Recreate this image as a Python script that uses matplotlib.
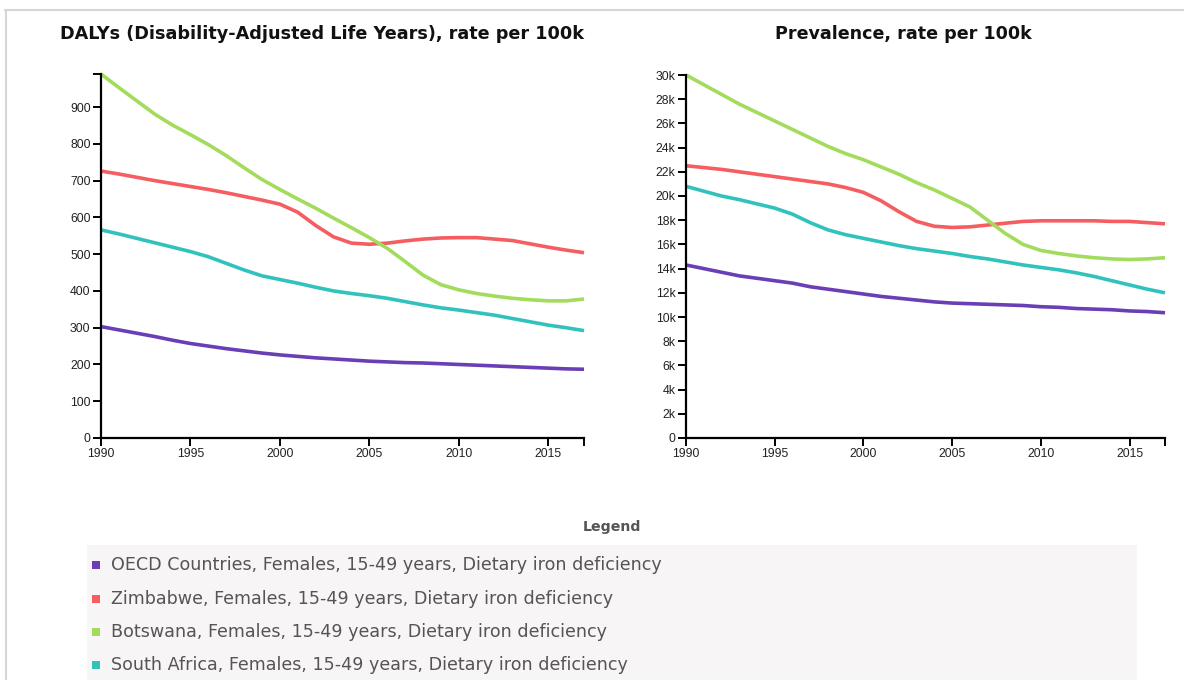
import matplotlib
matplotlib.use("Agg")
import matplotlib.pyplot as plt
from matplotlib.ticker import FixedLocator, FuncFormatter
from matplotlib.patches import Rectangle
from matplotlib.lines import Line2D

years = list(range(1990, 2018))

series_names = [
    "OECD Countries, Females, 15-49 years, Dietary iron deficiency",
    "Zimbabwe, Females, 15-49 years, Dietary iron deficiency",
    "Botswana, Females, 15-49 years, Dietary iron deficiency",
    "South Africa, Females, 15-49 years, Dietary iron deficiency",
]
series_colors = ["#6a3fb6", "#f55d61", "#a3dc5c", "#32c2bd"]

# DALYs rate per 100k
dalys_oecd = [303, 294, 285, 276, 266, 257, 250, 243, 237, 231, 226, 222, 218, 215,
              212, 209, 207, 205, 204, 202, 200, 198, 196, 194, 192, 190, 188, 187]
dalys_zimbabwe = [726, 718, 709, 700, 692, 684, 676, 667, 657, 647, 636, 614, 578, 547,
                  530, 527, 530, 536, 541, 544, 545, 545, 541, 537, 528, 519, 511, 504]
dalys_botswana = [990, 953, 917, 881, 851, 825, 798, 768, 735, 703, 676, 650, 625, 598,
                  572, 545, 516, 480, 443, 417, 403, 393, 386, 380, 376, 373, 373, 378]
dalys_south_africa = [566, 555, 543, 531, 519, 507, 493, 475, 457, 441, 431, 421, 410, 400,
                      393, 387, 380, 371, 362, 354, 348, 341, 334, 325, 316, 307, 300, 292]

# Prevalence rate per 100k
prev_oecd = [14300, 14000, 13700, 13400, 13200, 13000, 12800, 12500, 12300, 12100, 11900,
             11700, 11550, 11400, 11250, 11150, 11100, 11050, 11000, 10950, 10850, 10800,
             10700, 10650, 10600, 10500, 10450, 10350]
prev_zimbabwe = [22500, 22350, 22200, 22000, 21800, 21600, 21400, 21200, 21000, 20700, 20300,
                 19600, 18700, 17900, 17500, 17400, 17450, 17600, 17750, 17900, 17950, 17950,
                 17950, 17950, 17900, 17900, 17800, 17700]
prev_botswana = [30000, 29200, 28400, 27600, 26900, 26200, 25500, 24800, 24100, 23500, 23000,
                 22400, 21800, 21100, 20500, 19800, 19100, 18000, 16900, 16000, 15500, 15250,
                 15050, 14900, 14800, 14750, 14800, 14900]
prev_south_africa = [20800, 20400, 20000, 19700, 19350, 19000, 18500, 17800, 17200, 16800, 16500,
                     16200, 15900, 15650, 15450, 15250, 15000, 14800, 14550, 14300, 14100, 13900,
                     13650, 13350, 13000, 12650, 12300, 12000]

dalys = [dalys_oecd, dalys_zimbabwe, dalys_botswana, dalys_south_africa]
prev = [prev_oecd, prev_zimbabwe, prev_botswana, prev_south_africa]

x_ticks = [1990, 1995, 2000, 2005, 2010, 2015]
dalys_ticks = [0, 100, 200, 300, 400, 500, 600, 700, 800, 900]
prev_ticks = list(range(0, 30001, 2000))

titles = ["DALYs (Disability-Adjusted Life Years), rate per 100k", "Prevalence, rate per 100k"]

W, H = 1184, 680
fig = plt.figure(figsize=(W / 100, H / 100), dpi=100)
fig.patch.set_facecolor("white")

def fx(px):
    return px / W

def fy(py):
    return 1 - py / H

# outer frame lines
fig.add_artist(Line2D([fx(5), fx(1184)], [fy(10), fy(10)], color="#d6d6d6", lw=1.5))
fig.add_artist(Line2D([fx(6), fx(6)], [fy(10), fy(680)], color="#d6d6d6", lw=1.5))

tick_font = dict(family="Liberation Sans", size=8.8)

def setup_axes(ax, ylim, yticks, yfmt):
    ax.set_xlim(1990, 2017)
    ax.set_ylim(*ylim)
    for s in ["top", "right"]:
        ax.spines[s].set_visible(False)
    for s in ["left", "bottom"]:
        ax.spines[s].set_linewidth(1.6)
        ax.spines[s].set_color("black")
    ax.xaxis.set_major_locator(FixedLocator(x_ticks))
    ax.xaxis.set_minor_locator(FixedLocator([2017]))
    ax.yaxis.set_major_locator(FixedLocator(yticks))
    ax.yaxis.set_minor_locator(FixedLocator([ylim[1]]))
    ax.yaxis.set_major_formatter(FuncFormatter(yfmt))
    ax.tick_params(which="both", direction="out", length=6, width=1.4, color="black",
                   labelcolor="#222222", pad=1.5)
    for lab in ax.get_xticklabels() + ax.get_yticklabels():
        lab.set_fontfamily(tick_font["family"])
        lab.set_fontsize(tick_font["size"])
    ax.set_facecolor("none")

# left axes
axL = fig.add_axes([fx(101), fy(438), fx(584) - fx(101), fy(74) - fy(438)])
for vals, c in zip(dalys, series_colors):
    axL.plot(years, vals, color=c, lw=2.6, solid_capstyle="butt", clip_on=False)
setup_axes(axL, (0, 990), dalys_ticks, lambda v, p: f"{int(v)}")

# right axes
axR = fig.add_axes([fx(686), fy(438), fx(1165) - fx(686), fy(75) - fy(438)])
for vals, c in zip(prev, series_colors):
    axR.plot(years, vals, color=c, lw=2.6, solid_capstyle="butt", clip_on=False)
setup_axes(axR, (0, 30000), prev_ticks,
           lambda v, p: "0" if v == 0 else f"{int(v / 1000)}k")
axR.yaxis.set_minor_locator(FixedLocator([]))

# titles
fig.text(fx(321.5), fy(34), titles[0], ha="center", va="center",
         fontsize=12.7, fontweight="bold", family="DejaVu Sans", color="#111111")
fig.text(fx(903.5), fy(34), titles[1], ha="center", va="center",
         fontsize=12.6, fontweight="bold", family="DejaVu Sans", color="#111111")

# legend
fig.text(fx(612), fy(527), "Legend", ha="center", va="center",
         fontsize=10.2, fontweight="bold", family="DejaVu Sans", color="#555555")
fig.add_artist(Rectangle((fx(87), fy(680)), fx(1137) - fx(87), fy(545) - fy(680),
                         transform=fig.transFigure, facecolor="#f7f5f5",
                         edgecolor="none", zorder=0))
leg_y = [565, 599, 632, 665]
for name, c, yy in zip(series_names, series_colors, leg_y):
    fig.add_artist(Rectangle((fx(92), fy(yy + 4)), fx(8), 8 / H,
                             transform=fig.transFigure, facecolor=c, edgecolor="none"))
    fig.text(fx(111), fy(yy), name, ha="left", va="center",
             fontsize=12.6, family="DejaVu Sans", color="#555555")

fig.savefig("out.png", dpi=100, facecolor="white")
